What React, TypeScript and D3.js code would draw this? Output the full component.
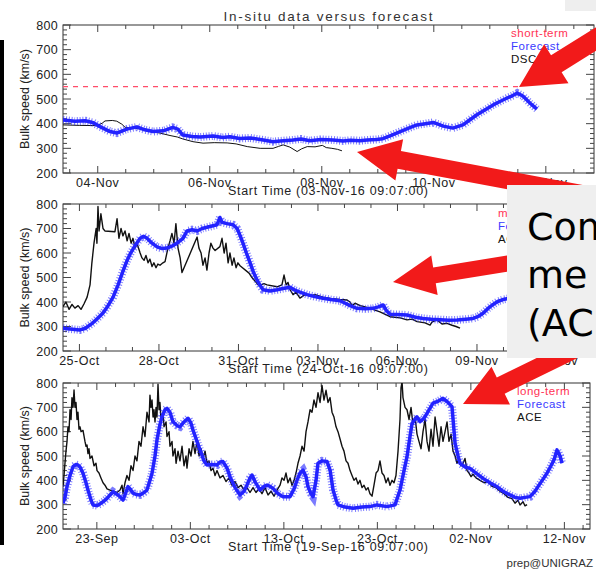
import React, { useRef, useEffect } from 'react';
import * as d3 from 'd3';

const W = 596;
const H = 577;
const DAY = 86400000;

// [days after panel start time, bulk speed km/s]
const shortForecast = [[0,415],[0.21,410],[0.4,412],[0.54,404],[0.66,388],[0.84,368],[0.96,362],[1.14,378],[1.32,387],[1.46,375],[1.61,368],[1.79,371],[1.96,385],[2.05,378],[2.14,354],[2.3,348],[2.45,346],[2.68,350],[2.85,344],[2.98,347],[3.15,340],[3.34,342],[3.55,335],[3.75,327],[3.88,330],[4.11,334],[4.25,338],[4.41,331],[4.6,336],[4.82,334],[5.0,330],[5.13,333],[5.3,331],[5.43,334],[5.6,336],[5.71,339],[5.85,352],[6.02,368],[6.17,382],[6.32,395],[6.47,400],[6.61,405],[6.79,390],[6.96,382],[7.14,395],[7.26,415],[7.39,436],[7.53,455],[7.68,476],[7.8,490],[7.93,504],[8.03,514],[8.11,524],[8.21,512],[8.34,483],[8.46,459]];
const shortObs = [[0,395],[0.3,393],[0.61,392],[0.7,402],[0.75,411],[0.88,413],[0.96,410],[1.05,398],[1.11,385],[1.25,383],[1.39,378],[1.55,368],[1.73,362],[1.91,352],[2.04,346],[2.14,338],[2.32,327],[2.5,321],[2.7,323],[2.93,322],[3.09,318],[3.29,307],[3.52,300],[3.75,300],[3.85,308],[3.93,314],[4.05,305],[4.18,287],[4.26,298],[4.36,307],[4.5,306],[4.63,312],[4.7,303],[4.8,300],[4.9,296],[4.98,290]];
const shortThreshold = 550;

const mediumForecast = [[0,293],[0.26,290],[0.64,286],[0.83,292],[1.13,315],[1.32,335],[1.51,355],[1.7,385],[1.89,420],[2.08,470],[2.26,525],[2.4,565],[2.53,595],[2.72,630],[2.91,660],[3.04,668],[3.17,660],[3.36,640],[3.55,625],[3.74,618],[3.92,620],[4.11,628],[4.3,640],[4.53,660],[4.68,690],[4.87,695],[5.06,690],[5.25,700],[5.43,705],[5.62,710],[5.81,715],[5.92,745],[6.0,725],[6.19,720],[6.42,715],[6.57,700],[6.68,672],[6.79,640],[6.92,600],[7.06,560],[7.19,520],[7.32,490],[7.45,465],[7.55,450],[7.81,445],[8.08,450],[8.3,455],[8.57,460],[8.75,448],[8.94,440],[9.21,430],[9.5,422],[9.81,415],[10.1,410],[10.45,405],[10.65,395],[10.83,385],[11.09,374],[11.4,372],[11.7,374],[11.9,380],[12.08,388],[12.2,365],[12.34,350],[12.6,349],[12.98,347],[13.3,338],[13.58,333],[13.9,330],[14.23,328],[14.55,326],[14.87,327],[15.2,330],[15.47,333],[15.65,340],[15.85,354],[16.05,375],[16.23,390],[16.4,402],[16.6,410],[16.85,415],[17.06,420]];
const mediumObs = [[0,381],[0.11,400],[0.23,370],[0.34,390],[0.45,375],[0.57,385],[0.68,370],[0.79,392],[0.91,420],[1.02,470],[1.09,560],[1.17,640],[1.25,700],[1.28,640],[1.32,790],[1.36,690],[1.43,760],[1.51,700],[1.58,690],[1.96,687],[2.04,740],[2.11,660],[2.19,700],[2.26,670],[2.34,690],[2.42,650],[2.49,680],[2.57,640],[2.64,660],[2.72,620],[2.79,640],[2.91,600],[2.98,580],[3.06,570],[3.13,590],[3.21,560],[3.28,575],[3.36,545],[3.43,560],[3.51,540],[3.58,555],[3.66,550],[3.77,560],[3.85,565],[3.96,620],[4.04,650],[4.11,680],[4.19,640],[4.26,720],[4.34,620],[4.42,580],[4.49,520],[5.06,665],[5.13,620],[5.21,600],[5.28,550],[5.36,580],[5.43,530],[5.51,600],[5.58,640],[5.66,620],[5.74,610],[5.92,626],[6.0,660],[6.08,600],[6.15,640],[6.23,560],[6.3,600],[6.38,550],[6.45,580],[6.53,540],[6.6,560],[6.68,548],[7.02,518],[7.13,500],[7.25,485],[7.36,470],[7.47,470],[7.58,475],[7.7,470],[8.08,462],[8.26,470],[8.34,510],[8.42,470],[8.49,480],[8.57,450],[8.68,430],[8.79,440],[8.94,416],[9.13,430],[9.32,425],[9.51,430],[9.81,420],[10.08,415],[10.45,410],[10.72,408],[10.83,400],[10.91,385],[11.02,395],[11.21,385],[11.4,380],[11.58,374],[11.96,360],[12.34,340],[12.72,335],[12.98,327],[13.17,330],[13.36,320],[13.66,315],[13.85,306],[13.92,318],[14.11,327],[14.3,310],[14.49,313],[14.68,305],[14.83,300],[14.98,293]];

const longForecast = [[0,306],[0.21,330],[0.43,374],[0.75,420],[1.07,456],[1.39,465],[1.6,463],[1.82,455],[2.14,429],[2.46,390],[2.67,360],[2.99,320],[3.21,299],[3.64,296],[3.96,303],[4.39,315],[4.71,326],[5.03,340],[5.35,353],[5.67,345],[5.88,340],[6.2,328],[6.42,319],[6.63,340],[6.95,374],[7.17,365],[7.49,347],[7.81,342],[8.24,340],[8.66,350],[8.98,360],[9.3,400],[9.52,429],[9.84,500],[10.05,566],[10.37,630],[10.59,661],[10.91,690],[11.12,696],[11.44,680],[11.76,641],[12.19,625],[12.51,620],[12.94,640],[13.37,655],[13.69,635],[13.9,607],[14.33,560],[14.65,525],[15.08,480],[15.4,463],[15.94,465],[16.47,463],[16.79,475],[17.11,477],[17.54,450],[17.86,415],[18.4,370],[18.93,340],[19.36,355],[19.68,381],[20.0,410],[20.21,422],[20.53,395],[21.07,360],[21.5,375],[21.82,381],[22.14,375],[22.46,367],[23.0,345],[23.53,333],[24.28,333],[24.71,365],[25.03,401],[25.35,430],[25.67,442],[25.99,415],[26.2,374],[26.52,345],[26.74,333],[27.06,400],[27.27,470],[27.7,480],[28.24,477],[28.56,442],[28.88,360],[29.2,320],[29.41,299],[30.16,290],[31.02,285],[31.98,290],[32.83,292],[33.58,299],[34.65,292],[35.51,299],[36.04,360],[36.47,440],[36.79,497],[37.11,580],[37.33,634],[37.86,661],[38.18,641],[38.61,655],[38.93,675],[39.57,717],[40.11,725],[40.64,737],[41.18,720],[41.6,703],[41.93,552],[42.25,500],[42.46,470],[42.99,455],[43.53,449],[44.17,430],[44.92,408],[45.67,390],[46.42,374],[47.06,355],[47.81,340],[48.34,330],[48.88,326],[49.41,330],[49.95,333],[50.48,355],[50.8,374],[51.34,405],[51.76,429],[52.19,460],[52.51,484],[52.83,525],[53.16,500],[53.37,470]];
const longObs = [[0,374],[0.11,420],[0.21,470],[0.32,520],[0.43,560],[0.53,620],[0.64,600],[0.75,690],[0.86,650],[0.96,740],[1.07,700],[1.18,771],[1.28,700],[1.39,720],[1.5,650],[1.6,680],[1.71,610],[1.82,620],[1.93,600],[2.14,605],[2.35,560],[2.46,540],[2.57,545],[2.67,510],[2.78,530],[2.89,490],[3.1,500],[3.32,460],[3.53,470],[3.64,440],[3.85,430],[4.06,410],[4.28,390],[4.49,380],[4.71,365],[5.03,360],[5.35,355],[5.78,350],[6.1,360],[6.31,380],[6.42,345],[6.63,390],[6.84,420],[7.06,400],[7.27,460],[7.49,440],[7.7,500],[7.91,480],[8.13,560],[8.34,540],[8.56,620],[8.77,580],[8.98,680],[9.2,640],[9.3,750],[9.41,700],[9.52,730],[9.63,660],[9.73,690],[9.84,640],[9.95,700],[10.05,660],[10.16,795],[10.27,690],[10.37,720],[10.48,650],[10.7,680],[10.8,620],[11.02,640],[11.12,580],[11.34,600],[11.44,540],[11.66,560],[11.76,500],[11.98,530],[12.09,470],[12.3,520],[12.51,480],[12.73,540],[12.94,460],[13.16,500],[13.26,450],[13.48,530],[13.69,500],[13.9,560],[14.12,510],[14.33,560],[14.55,500],[14.76,530],[14.97,490],[15.19,520],[15.4,470],[15.61,480],[15.83,440],[16.04,450],[16.26,420],[16.47,440],[16.79,410],[17.11,420],[17.43,395],[17.75,410],[18.07,380],[18.4,395],[18.72,370],[19.04,380],[19.36,360],[19.68,370],[20.0,350],[20.32,370],[20.64,350],[20.96,365],[21.28,345],[21.6,370],[21.93,340],[22.25,355],[22.57,335],[22.89,360],[23.21,380],[23.42,410],[23.64,400],[23.85,430],[24.06,390],[24.28,410],[24.49,380],[24.71,400],[24.92,430],[25.13,470],[25.35,500],[25.56,540],[25.78,520],[25.99,600],[26.2,640],[26.42,690],[26.63,680],[26.84,730],[27.06,700],[27.27,760],[27.49,720],[27.7,790],[27.91,730],[28.13,770],[28.34,720],[28.56,740],[28.77,680],[28.98,660],[29.2,620],[29.41,600],[29.63,570],[29.84,540],[30.05,520],[30.27,480],[30.48,470],[30.7,440],[30.91,420],[31.12,400],[31.34,410],[31.55,385],[31.76,400],[31.98,370],[32.19,380],[32.41,360],[32.62,370],[32.83,345],[33.05,335],[33.26,380],[33.48,430],[33.69,440],[33.9,480],[34.12,430],[34.33,420],[34.55,390],[34.76,410],[34.97,380],[35.19,400],[35.4,390],[35.61,420],[35.83,520],[36.04,650],[36.15,780],[36.26,805],[36.36,740],[36.58,700],[36.79,690],[37.01,650],[37.22,700],[37.43,630],[37.65,660],[37.86,590],[38.07,560],[38.29,530],[38.5,600],[38.72,650],[38.93,560],[39.14,520],[39.36,610],[39.57,540],[39.79,660],[40.0,600],[40.21,540],[40.43,620],[40.64,560],[40.86,600],[41.07,640],[41.28,560],[41.5,590],[41.71,520],[41.93,500],[42.14,470],[42.35,490],[42.57,460],[42.78,470],[42.99,490],[43.21,440],[43.42,430],[43.64,415],[43.85,425],[44.17,410],[44.6,400],[45.03,390],[45.45,395],[45.88,375],[46.31,370],[46.74,355],[47.17,345],[47.59,330],[48.02,325],[48.34,306],[48.66,318],[48.88,299],[49.2,312],[49.41,295],[49.63,300]];

const speedTicks = [200, 300, 400, 500, 600, 700, 800];
const shortLegend = ['short-term', 'Forecast', 'DSCOVR'];
const mediumLegend = ['medium-term', 'Forecast', 'ACE'];
const longLegend = ['long-term', 'Forecast', 'ACE'];

const panels = [
  { start: Date.UTC(2016, 10, 3, 9, 7), days: 9.48, firstLabel: Date.UTC(2016, 10, 4), labelStep: 2, minorStep: 0.5,
    startLabel: 'Start Time (03-Nov-16 09:07:00)', legend: shortLegend, forecast: shortForecast, obs: shortObs,
    threshold: shortThreshold, thresholdEnd: 8.2, top: 25, bottom: 173, right: 594, legendX: 511, legendY: 37 },
  { start: Date.UTC(2016, 9, 24, 9, 7), days: 19.96, firstLabel: Date.UTC(2016, 9, 25), labelStep: 3, minorStep: 1,
    startLabel: 'Start Time (24-Oct-16 09:07:00)', legend: mediumLegend, forecast: mediumForecast, obs: mediumObs,
    threshold: null, thresholdEnd: 0, top: 204, bottom: 351, right: 592, legendX: 498, legendY: 217 },
  { start: Date.UTC(2016, 8, 19, 9, 7), days: 56.36, firstLabel: Date.UTC(2016, 8, 23), labelStep: 10, minorStep: 2,
    startLabel: 'Start Time (19-Sep-16 09:07:00)', legend: longLegend, forecast: longForecast, obs: longObs,
    threshold: null, thresholdEnd: 0, top: 383, bottom: 529, right: 590, legendX: 517, legendY: 395 },
];

const FONT = '"Liberation Sans", Arial, sans-serif';
const RED = '#ff3355';
const BLUE = '#2323ff';

function arrowPoints(tip, dir, len, shaftW, headL, headW) {
  const n = Math.hypot(dir[0], dir[1]);
  const ux = dir[0] / n, uy = dir[1] / n;
  const px = -uy, py = ux;
  const bx = tip[0] + ux * headL, by = tip[1] + uy * headL;
  const tx = tip[0] + ux * len, ty = tip[1] + uy * len;
  return [
    [tip[0], tip[1]],
    [bx + px * headW / 2, by + py * headW / 2],
    [bx + px * shaftW / 2, by + py * shaftW / 2],
    [tx + px * shaftW / 2, ty + py * shaftW / 2],
    [tx - px * shaftW / 2, ty - py * shaftW / 2],
    [bx - px * shaftW / 2, by - py * shaftW / 2],
    [bx - px * headW / 2, by - py * headW / 2],
  ].map(p => p.join(',')).join(' ');
}

function App() {
  const svgRef = useRef(null);

  useEffect(() => {
    const svg = d3.select(svgRef.current);
    svg.selectAll('*').remove();
    const left = 63;
    const fmt = d3.utcFormat('%d-%b');

    svg.append('rect').attr('width', W).attr('height', H).attr('fill', '#fff');

    // title
    svg.append('text').attr('x', 328).attr('y', 21).attr('text-anchor', 'middle')
      .attr('font-family', FONT).attr('font-size', 13.5).attr('fill', '#333')
      .attr('textLength', 209).attr('lengthAdjust', 'spacing')
      .text('In-situ data versus forecast');

    panels.forEach((p, pi) => {
      const x = d3.scaleUtc()
        .domain([new Date(p.start), new Date(p.start + p.days * DAY)])
        .range([left, p.right]);
      const y = d3.scaleLinear().domain([200, 800]).range([p.bottom, p.top]);
      const at = d => new Date(p.start + d[0] * DAY);
      const g = svg.append('g');

      const clipId = 'clip' + pi;
      svg.append('clipPath').attr('id', clipId).append('rect')
        .attr('x', left).attr('y', p.top).attr('width', p.right - left).attr('height', p.bottom - p.top);

      // frame
      g.append('rect').attr('x', left).attr('y', p.top).attr('width', p.right - left).attr('height', p.bottom - p.top)
        .attr('fill', 'none').attr('stroke', '#333').attr('stroke-width', 1);

      // y ticks, both sides
      d3.range(200, 801, 20).forEach(v => {
        const len = v % 100 === 0 ? 8 : 4;
        g.append('line').attr('x1', left).attr('x2', left + len).attr('y1', y(v)).attr('y2', y(v))
          .attr('stroke', '#444');
        g.append('line').attr('x1', p.right).attr('x2', p.right - len).attr('y1', y(v)).attr('y2', y(v))
          .attr('stroke', '#444');
      });
      speedTicks.forEach(v => {
        g.append('text').attr('x', 58).attr('y', y(v) + 4.5).attr('text-anchor', 'end')
          .attr('font-family', FONT).attr('font-size', 12.5).attr('fill', '#222').attr('letter-spacing', 0.3)
          .text(v);
      });
      g.append('text').attr('transform', `translate(29,${(p.top + p.bottom) / 2}) rotate(-90)`)
        .attr('text-anchor', 'middle').attr('font-family', FONT).attr('font-size', 12.5).attr('fill', '#222')
        .text('Bulk speed (km/s)');

      // x ticks
      const ratio = Math.round(p.labelStep / p.minorStep);
      d3.range(-60, 200).forEach(i => {
        const t = new Date(p.firstLabel + i * p.minorStep * DAY);
        const px = x(t);
        if (px < left || px > p.right) return;
        const major = i % ratio === 0;
        const len = major ? 7 : 4;
        g.append('line').attr('x1', px).attr('x2', px).attr('y1', p.bottom).attr('y2', p.bottom - len).attr('stroke', '#444');
        g.append('line').attr('x1', px).attr('x2', px).attr('y1', p.top).attr('y2', p.top + len).attr('stroke', '#444');
        if (major) {
          g.append('text').attr('x', px).attr('y', p.bottom + 14).attr('text-anchor', 'middle')
            .attr('font-family', FONT).attr('font-size', 12.5).attr('fill', '#222').attr('letter-spacing', 0.5)
            .text(fmt(t));
        }
      });
      g.append('text').attr('x', 328).attr('y', p.bottom + 22).attr('text-anchor', 'middle')
        .attr('font-family', FONT).attr('font-size', 12.5).attr('fill', '#222')
        .attr('textLength', 200).attr('lengthAdjust', 'spacing')
        .text(p.startLabel);

      const data = g.append('g').attr('clip-path', `url(#${clipId})`);

      if (p.threshold !== null) {
        data.append('line').attr('x1', left).attr('x2', x(new Date(p.start + p.thresholdEnd * DAY)))
          .attr('y1', y(p.threshold)).attr('y2', y(p.threshold))
          .attr('stroke', '#ff4d6a').attr('stroke-width', 1.3).attr('stroke-dasharray', '5,5');
      }

      const line = d3.line().x(d => x(at(d))).y(d => y(d[1]));
      data.append('path').attr('d', line(p.obs)).attr('fill', 'none').attr('stroke', '#111')
        .attr('stroke-width', pi === 0 ? 1 : 1.4).attr('stroke-linejoin', 'round');

      data.append('path').attr('d', line(p.forecast)).attr('fill', 'none')
        .attr('stroke', BLUE).attr('stroke-width', 3.5).attr('stroke-linejoin', 'round');
      data.append('path').attr('d', line(p.forecast)).attr('fill', 'none')
        .attr('stroke', BLUE).attr('stroke-width', 8).attr('stroke-dasharray', '1,1.8').attr('opacity', 0.6);

      // legend
      const colors = [RED, '#3a3aff', '#111'];
      p.legend.forEach((s, i) => {
        g.append('text').attr('x', p.legendX).attr('y', p.legendY + i * 13)
          .attr('font-family', FONT).attr('font-size', 11.5).attr('letter-spacing', 0.5)
          .attr('fill', colors[i]).text(s);
      });
    });

    // footer
    svg.append('text').attr('x', 593).attr('y', 567).attr('text-anchor', 'end')
      .attr('font-family', FONT).attr('font-size', 11.5).attr('fill', '#333').text('prep@UNIGRAZ');

    // left black edge and top-right grey patch
    svg.append('rect').attr('x', 0).attr('y', 40).attr('width', 4).attr('height', 505).attr('fill', '#000');
    svg.append('rect').attr('x', 565).attr('y', 0).attr('width', 31).attr('height', 11).attr('fill', '#eeeeee');

    // annotation arrows
    const arrows = [
      { tip: [519, 87], dir: [0.85, -0.53], len: 140, shaftW: 20, headL: 44, headW: 46 },
      { tip: [357, 152], dir: [0.983, 0.184], len: 290, shaftW: 18, headL: 43, headW: 42 },
      { tip: [393, 282], dir: [0.987, -0.16], len: 140, shaftW: 16, headL: 42, headW: 40 },
      { tip: [463, 404], dir: [0.9, -0.44], len: 160, shaftW: 18, headL: 42, headW: 42 },
    ];
    arrows.forEach(a => {
      svg.append('polygon').attr('points', arrowPoints(a.tip, a.dir, a.len, a.shaftW, a.headL, a.headW))
        .attr('fill', '#f21a1a');
    });

    // callout box
    svg.append('rect').attr('x', 507).attr('y', 185).attr('width', 95).attr('height', 173).attr('fill', '#efefef');
    ['Com', 'me', '(AC'].forEach((s, i) => {
      svg.append('text').attr('x', 527).attr('y', 240 + i * 48)
        .attr('font-family', '"DejaVu Sans", sans-serif').attr('font-size', 38).attr('fill', '#000').text(s);
    });
  }, []);

  return (
    <svg ref={svgRef} width={W} height={H}
      style={{ position: 'absolute', left: 0, top: 0, display: 'block' }}></svg>
  );
}

export default App;
